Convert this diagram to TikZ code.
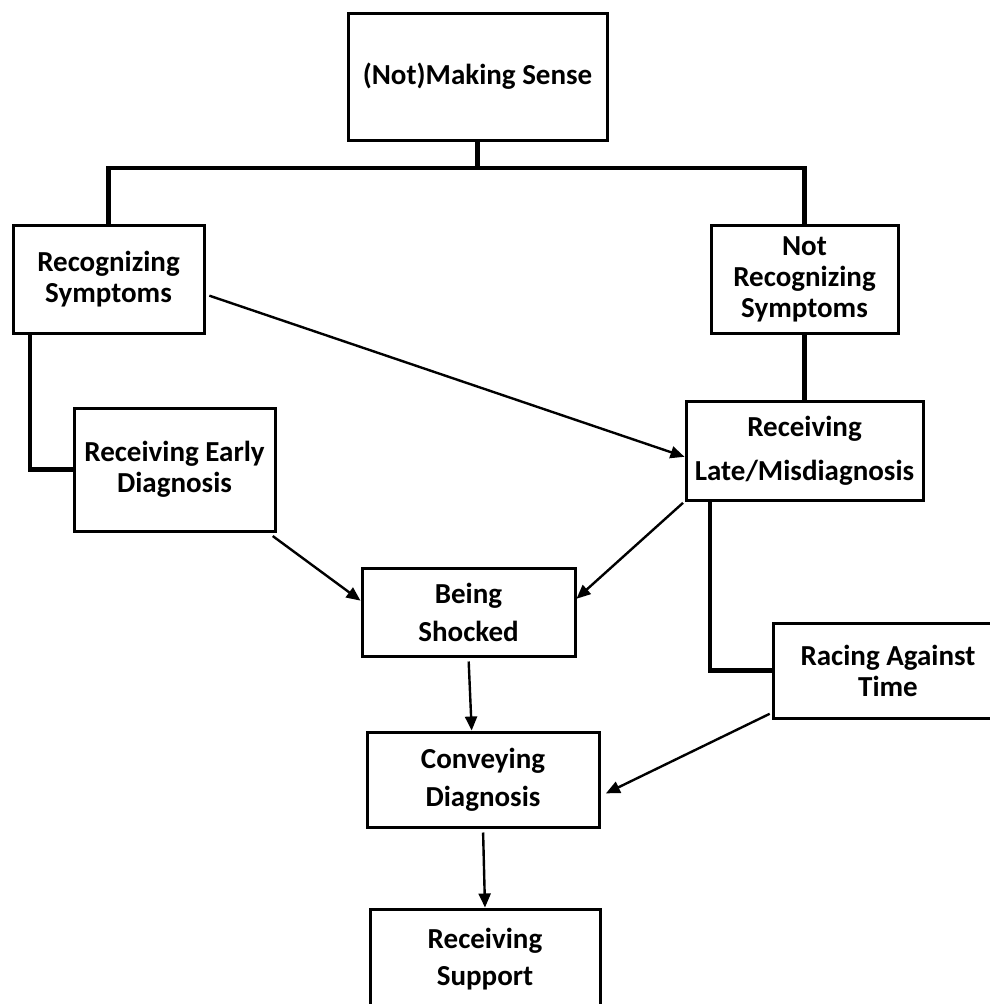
\documentclass[tikz,border=0pt]{standalone}
\usepackage{fontspec}
\setmainfont{Carlito}
\usepackage{tikz}
\usetikzlibrary{arrows.meta}

\tikzset{
  box/.style={draw, line width=3pt, align=center, inner sep=0pt,
    font=\fontsize{29}{31}\selectfont\bfseries},
  tree/.style={line width=4.3pt},
  arr/.style={line width=2.4pt, -{Triangle[length=14pt,width=12pt]}},
}

\begin{document}
\begin{tikzpicture}[x=1pt,y=-1pt]
\useasboundingbox (0,0) rectangle (989,1004);
% boxes
\node[box,minimum width=259pt,minimum height=127pt] (sense) at (477.5,76.5) {(Not)Making Sense};
\node[box,minimum width=191pt,minimum height=108pt] (recog) at (108.5,279) {Recognizing\\Symptoms};
\node[box,minimum width=187pt,minimum height=108pt] (notrecog) at (804.5,279) {Not\\Recognizing\\Symptoms};
\node[box,minimum width=201pt,minimum height=123pt] (early) at (174.5,469.5) {Receiving Early\\Diagnosis};
\node[box,minimum width=237pt,minimum height=99pt] (late) at (804.5,450.5) {Receiving\\[13pt]Late/Misdiagnosis};
\node[box,minimum width=213pt,minimum height=88pt] (shocked) at (468.5,612) {Being\\[7pt]Shocked};
\node[box,minimum width=230pt,minimum height=95pt] (racing) at (888,670.5) {Racing Against\\Time};
\node[box,minimum width=232pt,minimum height=95pt] (convey) at (483,779.5) {Conveying\\[7pt]Diagnosis};
\node[box,minimum width=230pt,minimum height=100pt] (support) at (485,959) {Receiving\\[6pt]Support};

% tree lines
\coordinate (split) at (477.5,168);
\coordinate (elbowL) at (30,469.5);
\coordinate (elbowR) at (710,670.5);
\draw[tree] (sense.south) -- (split);
\draw[tree] (recog.north) |- (split) -| (notrecog.north);
\draw[tree] (recog.south -| elbowL) -- (elbowL) -- (early.west);
\draw[tree] (notrecog.south) -- (late.north);
\draw[tree] (late.south -| elbowR) -- (elbowR) -- (racing.west);

% arrows
\draw[arr,shorten <=4pt] (recog.-9) -- (late.183);
\draw[arr,shorten <=6pt] (early.-34) -- (shocked.174);
\draw[arr,shorten <=2pt] (late.south west) -- (shocked.7.5);
\draw[arr,shorten <=4pt] (shocked.south) -- (convey.103);
\draw[arr,shorten <=2pt,shorten >=6pt] (racing.200) -- (convey.-8.6);
\draw[arr,shorten <=4pt] (convey.south) -- (support.north);
\end{tikzpicture}
\end{document}
